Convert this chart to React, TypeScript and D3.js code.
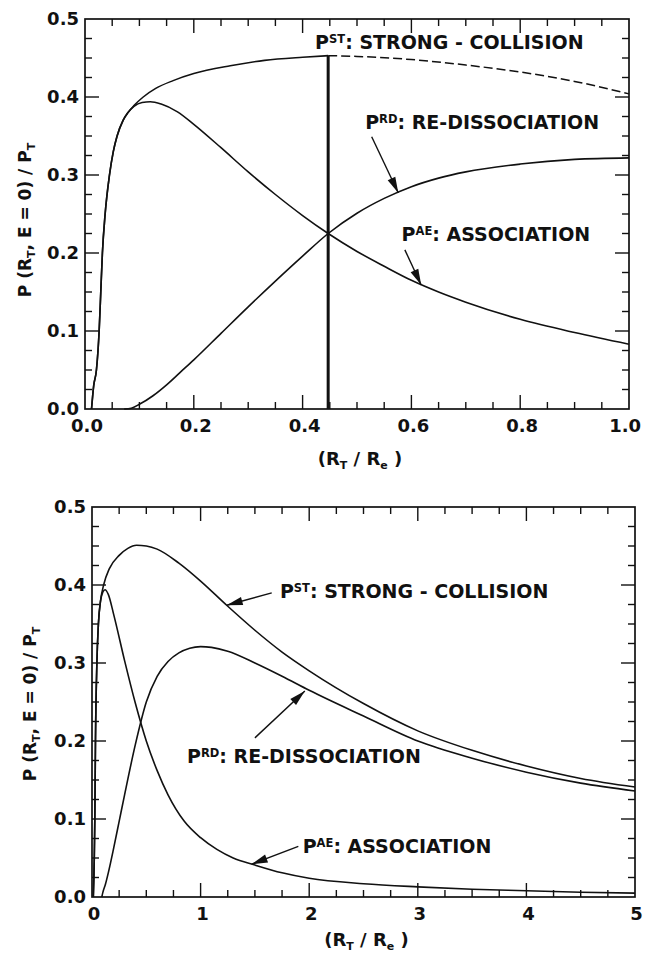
import React from 'react';
import * as d3 from 'd3';

type Pt = [number, number];

// ---------- Upper panel: 0 <= R_T/R_e <= 1 ----------
const topStrong: Pt[] = [
  [0.012, 0], [0.016, 0.03], [0.021, 0.05], [0.026, 0.1], [0.029, 0.15], [0.032, 0.2],
  [0.037, 0.25], [0.045, 0.3], [0.052, 0.33], [0.059, 0.35], [0.07, 0.37], [0.079, 0.38],
  [0.09, 0.389], [0.107, 0.4], [0.13, 0.411], [0.162, 0.421], [0.2, 0.43], [0.267, 0.44],
  [0.33, 0.447], [0.4, 0.451], [0.447, 0.453],
];
const topStrongBeyond: Pt[] = [
  [0.447, 0.453], [0.5, 0.452], [0.6, 0.448], [0.7, 0.441], [0.8, 0.432], [0.9, 0.42], [1.0, 0.404],
];
const topAssociation: Pt[] = [
  [0.012, 0], [0.016, 0.03], [0.021, 0.05], [0.026, 0.1], [0.029, 0.15], [0.032, 0.2],
  [0.037, 0.25], [0.045, 0.3], [0.052, 0.33], [0.059, 0.35], [0.07, 0.37], [0.079, 0.38],
  [0.09, 0.388], [0.105, 0.393], [0.12, 0.394], [0.14, 0.391], [0.17, 0.381], [0.2, 0.365],
  [0.25, 0.335], [0.3, 0.304], [0.35, 0.275], [0.4, 0.248], [0.447, 0.225], [0.5, 0.202],
  [0.55, 0.183], [0.6, 0.165], [0.65, 0.15], [0.7, 0.137], [0.8, 0.115], [0.9, 0.098], [1.0, 0.083],
];
const topRedissociation: Pt[] = [
  [0.072, 0], [0.085, 0.001], [0.1, 0.006], [0.125, 0.017], [0.15, 0.031], [0.175, 0.047],
  [0.2, 0.063], [0.25, 0.097], [0.3, 0.131], [0.35, 0.164], [0.4, 0.196], [0.447, 0.225],
  [0.5, 0.251], [0.55, 0.27], [0.6, 0.285], [0.65, 0.296], [0.7, 0.304], [0.8, 0.314],
  [0.9, 0.32], [1.0, 0.322],
];
const topCutoff = 0.447;
const topXTicks = [0, 0.2, 0.4, 0.6, 0.8, 1.0];

// ---------- Lower panel: 0 <= R_T/R_e <= 5 ----------
const botStrong: Pt[] = [
  [0.012, 0], [0.021, 0.05], [0.026, 0.1], [0.032, 0.2], [0.045, 0.3], [0.059, 0.35],
  [0.079, 0.38], [0.107, 0.4], [0.16, 0.421], [0.25, 0.438], [0.33, 0.447], [0.41, 0.451],
  [0.5, 0.45], [0.6, 0.446], [0.8, 0.428], [1.0, 0.405], [1.24, 0.374], [1.5, 0.342],
  [1.75, 0.314], [2.0, 0.29], [2.5, 0.248], [3.0, 0.213], [3.5, 0.188], [4.0, 0.168],
  [4.5, 0.152], [5.0, 0.141],
];
const botAssociation: Pt[] = [
  [0.012, 0], [0.021, 0.05], [0.026, 0.1], [0.032, 0.2], [0.045, 0.3], [0.059, 0.35],
  [0.079, 0.38], [0.1, 0.391], [0.12, 0.394], [0.15, 0.388], [0.2, 0.362], [0.3, 0.303],
  [0.4, 0.248], [0.5, 0.2], [0.6, 0.162], [0.7, 0.131], [0.85, 0.097], [1.0, 0.076],
  [1.15, 0.061], [1.3, 0.05], [1.5, 0.041], [1.75, 0.031], [2.0, 0.024], [2.5, 0.017],
  [3.0, 0.013], [3.5, 0.01], [4.0, 0.008], [4.5, 0.006], [5.0, 0.005],
];
const botRedissociation: Pt[] = [
  [0.09, 0], [0.1, 0.006], [0.125, 0.017], [0.15, 0.031], [0.2, 0.063], [0.25, 0.097],
  [0.3, 0.131], [0.4, 0.196], [0.5, 0.25], [0.6, 0.283], [0.7, 0.302], [0.8, 0.313],
  [0.9, 0.319], [1.0, 0.321], [1.1, 0.32], [1.25, 0.315], [1.5, 0.3], [1.75, 0.283],
  [2.0, 0.265], [2.5, 0.232], [3.0, 0.2], [3.5, 0.178], [4.0, 0.16], [4.5, 0.146], [5.0, 0.136],
];
const botXTicks = [0, 1, 2, 3, 4, 5];

const yTicks = [0, 0.1, 0.2, 0.3, 0.4, 0.5];

// Curve labels: [main, superscript, rest], anchor in data units, optional arrow (from -> to)
type Label = { parts: [string, string, string]; at: Pt; arrow?: [Pt, Pt] };

const topLabels: Label[] = [
  { parts: ['P', 'ST', ': STRONG - COLLISION'], at: [0.423, 0.4615] },
  { parts: ['P', 'RD', ': RE-DISSOCIATION'], at: [0.515, 0.359], arrow: [[0.527, 0.349], [0.576, 0.277]] },
  { parts: ['P', 'AE', ': ASSOCIATION'], at: [0.582, 0.215], arrow: [[0.588, 0.204], [0.618, 0.159]] },
];
const botLabels: Label[] = [
  { parts: ['P', 'ST', ': STRONG - COLLISION'], at: [1.73, 0.383], arrow: [[1.655, 0.39], [1.24, 0.374]] },
  { parts: ['P', 'RD', ': RE-DISSOCIATION'], at: [0.875, 0.172], arrow: [[1.5, 0.204], [1.96, 0.264]] },
  { parts: ['P', 'AE', ': ASSOCIATION'], at: [1.94, 0.056], arrow: [[1.9, 0.065], [1.47, 0.042]] },
];

const INK = '#111';
const FONT = '"DejaVu Sans", "Liberation Sans", Arial, sans-serif';
const PAGE_W = 645;

type Frame = { left: number; right: number; top: number; bottom: number };

type PanelProps = {
  frame: Frame;
  xMax: number;
  xMinorStep: number;
  xMajorStep: number;
  xTicks: number[];
  xFormat: (v: number) => string;
  solid: Pt[][];
  dashed?: Pt[];
  cutoff?: number;
  labels: Label[];
  yTitleX: number;
  yTitleY: number;
  xTitleDy: number;
};

function stepValues(max: number, step: number) {
  const n = Math.round(max / step);
  return d3.range(0, n + 1).map((i) => +(i * step).toFixed(6));
}
const isMultiple = (v: number, step: number) => Math.abs(v / step - Math.round(v / step)) < 1e-6;

function Panel(p: PanelProps) {
  const { frame } = p;
  const x = d3.scaleLinear().domain([0, p.xMax]).range([frame.left, frame.right]);
  const y = d3.scaleLinear().domain([0, 0.5]).range([frame.bottom, frame.top]);
  const line = d3.line<Pt>().x((d) => x(d[0])).y((d) => y(d[1])).curve(d3.curveMonotoneX);

  const MAJ = 14;
  const MIN = 7;
  const xt = stepValues(p.xMax, p.xMinorStep).filter((v) => v > 0 && v < p.xMax);
  const yt = stepValues(0.5, 0.025).filter((v) => v > 0 && v < 0.5);

  const arrowHead = (from: Pt, to: Pt) => {
    const x0 = x(from[0]), y0 = y(from[1]), x1 = x(to[0]), y1 = y(to[1]);
    const a = Math.atan2(y1 - y0, x1 - x0);
    const L = 16, hw = 4.2;
    const bx = x1 - L * Math.cos(a), by = y1 - L * Math.sin(a);
    const nx = -Math.sin(a), ny = Math.cos(a);
    return `M${x1},${y1}L${bx + nx * hw},${by + ny * hw}L${bx - nx * hw},${by - ny * hw}Z`;
  };

  // keep the widest tick label inside the page
  const xLabelPos = (v: number) => {
    const half = p.xFormat(v).length * 5.6;
    return Math.min(x(v) + 2, PAGE_W - half - 3);
  };

  return (
    <g>
      {/* frame */}
      <rect x={frame.left} y={frame.top} width={frame.right - frame.left} height={frame.bottom - frame.top}
        fill="none" stroke={INK} strokeWidth={1.7} />
      {/* ticks on all four sides, pointing inward */}
      {xt.map((v) => {
        const len = isMultiple(v, p.xMajorStep) ? MAJ : MIN;
        return (
          <g key={'xt' + v}>
            <line x1={x(v)} x2={x(v)} y1={frame.bottom} y2={frame.bottom - len} stroke={INK} strokeWidth={1.4} />
            <line x1={x(v)} x2={x(v)} y1={frame.top} y2={frame.top + len} stroke={INK} strokeWidth={1.4} />
          </g>
        );
      })}
      {yt.map((v) => {
        const len = isMultiple(v, 0.1) ? MAJ : MIN;
        return (
          <g key={'yt' + v}>
            <line x1={frame.left} x2={frame.left + len} y1={y(v)} y2={y(v)} stroke={INK} strokeWidth={1.4} />
            <line x1={frame.right} x2={frame.right - len} y1={y(v)} y2={y(v)} stroke={INK} strokeWidth={1.4} />
          </g>
        );
      })}
      {/* tick labels */}
      {p.xTicks.map((v) => (
        <text key={'xl' + v} x={xLabelPos(v)} y={frame.bottom + 23} textAnchor="middle"
          fontFamily={FONT} fontWeight="bold" fontSize={18} fill={INK}>{p.xFormat(v)}</text>
      ))}
      {yTicks.map((v) => (
        <text key={'yl' + v} x={frame.left - 6} y={y(v)} dy="0.36em" textAnchor="end"
          fontFamily={FONT} fontWeight="bold" fontSize={18} fill={INK}>{d3.format('.1f')(v)}</text>
      ))}
      {/* axis titles */}
      <text transform={`translate(${p.yTitleX},${p.yTitleY}) rotate(-90)`} textAnchor="middle"
        fontFamily={FONT} fontWeight="bold" fontSize={17} fill={INK}>
        <tspan>P (R</tspan>
        <tspan fontSize={11} dy={4}>T</tspan>
        <tspan dy={-4}>, E = 0) / P</tspan>
        <tspan fontSize={11} dy={4}>T</tspan>
      </text>
      <text x={(frame.left + frame.right) / 2 + 3} y={frame.bottom + p.xTitleDy} textAnchor="middle"
        fontFamily={FONT} fontWeight="bold" fontSize={18} fill={INK}>
        <tspan>(R</tspan>
        <tspan fontSize={11} dy={4}>T</tspan>
        <tspan dy={-4}> / R</tspan>
        <tspan fontSize={11} dy={4}>e</tspan>
        <tspan dy={-4}> )</tspan>
      </text>
      {/* curves */}
      {p.solid.map((s, i) => (
        <path key={'c' + i} d={line(s) ?? ''} fill="none" stroke={INK} strokeWidth={1.6} />
      ))}
      {p.dashed && (
        <path d={line(p.dashed) ?? ''} fill="none" stroke={INK} strokeWidth={1.5} strokeDasharray="9 4" />
      )}
      {p.cutoff !== undefined && p.dashed && (
        <line x1={x(p.cutoff)} x2={x(p.cutoff)} y1={y(0)} y2={y(p.dashed[0][1])} stroke={INK} strokeWidth={3} />
      )}
      {/* labels and arrows */}
      {p.labels.map((l, i) => (
        <g key={'lab' + i}>
          <text x={x(l.at[0])} y={y(l.at[1])} fontFamily={FONT} fontWeight="bold" fontSize={19} fill={INK}>
            <tspan>{l.parts[0]}</tspan>
            <tspan fontSize={11.5} dy={-6}>{l.parts[1]}</tspan>
            <tspan dy={6}>{l.parts[2]}</tspan>
          </text>
          {l.arrow && (
            <g>
              <line x1={x(l.arrow[0][0])} y1={y(l.arrow[0][1])} x2={x(l.arrow[1][0])} y2={y(l.arrow[1][1])}
                stroke={INK} strokeWidth={1.4} />
              <path d={arrowHead(l.arrow[0], l.arrow[1])} fill={INK} />
            </g>
          )}
        </g>
      ))}
    </g>
  );
}

export default function App() {
  return (
    <svg width={645} height={955} viewBox="0 0 645 955"
      style={{ position: 'absolute', left: 0, top: 0, background: '#fff' }}>
      <rect width={645} height={955} fill="#fff" />
      <Panel
        frame={{ left: 85, right: 629, top: 19, bottom: 409 }}
        xMax={1}
        xMinorStep={0.05}
        xMajorStep={0.2}
        xTicks={topXTicks}
        xFormat={d3.format('.1f')}
        solid={[topStrong, topAssociation, topRedissociation]}
        dashed={topStrongBeyond}
        cutoff={topCutoff}
        labels={topLabels}
        yTitleX={31}
        yTitleY={220}
        xTitleDy={56}
      />
      <Panel
        frame={{ left: 92, right: 635, top: 507, bottom: 897 }}
        xMax={5}
        xMinorStep={0.25}
        xMajorStep={1}
        xTicks={botXTicks}
        xFormat={d3.format('d')}
        solid={[botStrong, botAssociation, botRedissociation]}
        labels={botLabels}
        yTitleX={36}
        yTitleY={704}
        xTitleDy={49}
      />
    </svg>
  );
}
